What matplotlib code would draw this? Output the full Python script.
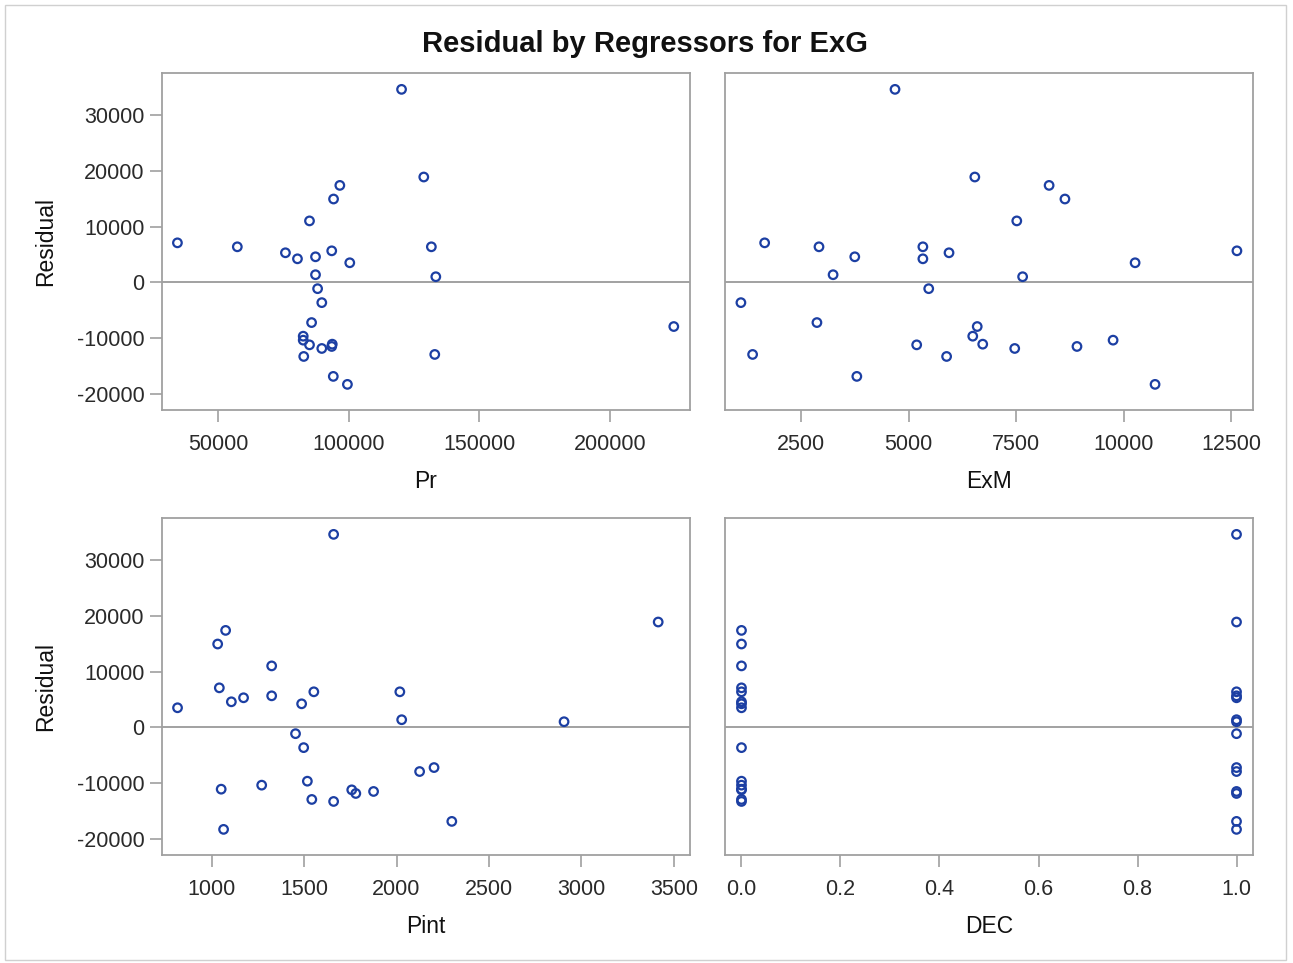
import matplotlib

matplotlib.use("Agg")

import matplotlib.pyplot as plt
from matplotlib.patches import Rectangle

plt.rcParams["font.family"] = ["Liberation Sans", "DejaVu Sans"]
plt.rcParams["axes.unicode_minus"] = False

# residuals and regressor values, one entry per observation
residual = [34570, 18870, 17370, 14930, 11010, 7080, 6370, 6370, 5650, 5300,
            4580, 4220, 3510, 1370, 1010, -1130, -3630, -7200, -7910, -9640,
            -10350, -11070, -11190, -11480, -11840, -12910, -13270, -16840, -18270]
pr = [120200, 128700, 96600, 94200, 85000, 34500, 57400, 131600, 93500, 75800,
      87300, 80400, 100400, 87300, 133300, 88100, 89700, 85800, 224300, 82600,
      82600, 93700, 85000, 93500, 89700, 132900, 82800, 94100, 99500]
exm = [4684, 6540, 8268, 8636, 7516, 1652, 2916, 5332, 12636, 5940,
       3748, 5332, 10268, 3244, 7652, 5468, 1100, 2868, 6596, 6492,
       9756, 6724, 5188, 8916, 7468, 1372, 5884, 3796, 10732]
pint = [1660, 3415, 1076, 1033, 1325, 1042, 1553, 2018, 1325, 1173,
        1107, 1487, 816, 2028, 2906, 1454, 1498, 2203, 2125, 1518,
        1271, 1052, 1758, 1876, 1780, 1542, 1660, 2299, 1065]
dec = [1, 1, 0, 0, 0, 0, 0, 1, 1, 1,
       0, 0, 0, 1, 1, 1, 0, 1, 1, 0,
       0, 0, 0, 1, 1, 0, 0, 1, 1]

y_ticks = [-20000, -10000, 0, 10000, 20000, 30000]

panels = [
    ("Pr", pr, (28600, 230500), [50000, 100000, 150000, 200000], None),
    ("ExM", exm, (730, 13010), [2500, 5000, 7500, 10000, 12500], None),
    ("Pint", pint, (732, 3587), [1000, 1500, 2000, 2500, 3000, 3500], None),
    ("DEC", dec, (-0.0333, 1.0333), [0.0, 0.2, 0.4, 0.6, 0.8, 1.0],
     ["0.0", "0.2", "0.4", "0.6", "0.8", "1.0"]),
]

W, H = 1293, 963
fig = plt.figure(figsize=(W / 100, H / 100), dpi=100)
fig.patches.append(Rectangle((5 / W, 3 / H), 1281 / W, 955 / H, transform=fig.transFigure,
                             fill=False, edgecolor="#d0d0d0", linewidth=1.0))

# pixel boxes (left, top, right, bottom)
boxes = [(162, 73, 690, 410), (725, 73, 1253, 410),
         (162, 518, 690, 855), (725, 518, 1253, 855)]

frame = "#a0a0a0"
marker_color = "#1c3fa3"

for i, ((name, xs, xlim, xticks, xlabels), (l, t, r, b)) in enumerate(zip(panels, boxes)):
    ax = fig.add_axes([l / W, 1 - b / H, (r - l) / W, (b - t) / H])
    ax.axhline(0, color="#9a9a9a", linewidth=1.3, zorder=1)
    ax.scatter(xs, residual, s=38, facecolors="none", edgecolors=marker_color,
               linewidths=1.6, zorder=3)
    ax.set_xlim(*xlim)
    ax.set_ylim(-22860, 37500)
    ax.set_xticks(xticks)
    if xlabels:
        ax.set_xticklabels(xlabels)
    ax.set_xlabel(name, fontsize=16.5, color="#111111", labelpad=11)
    for s in ax.spines.values():
        s.set_color(frame)
        s.set_linewidth(1.3)
    ax.tick_params(axis="both", colors=frame, labelcolor="#2a2a2a",
                   labelsize=15.5, length=8.5, width=1.2)
    ax.tick_params(axis="x", pad=8.5)
    ax.tick_params(axis="y", pad=4)
    if i % 2 == 0:
        ax.set_yticks(y_ticks)
        ax.set_ylabel("Residual", fontsize=16.5, color="#111111", labelpad=14)
    else:
        ax.set_yticks([])

fig.text(645 / W, 1 - 44 / H, "Residual by Regressors for ExG", ha="center", va="center",
         fontsize=21, fontweight="bold", color="#111111")

fig.savefig("out.png", dpi=100)
plt.close(fig)
